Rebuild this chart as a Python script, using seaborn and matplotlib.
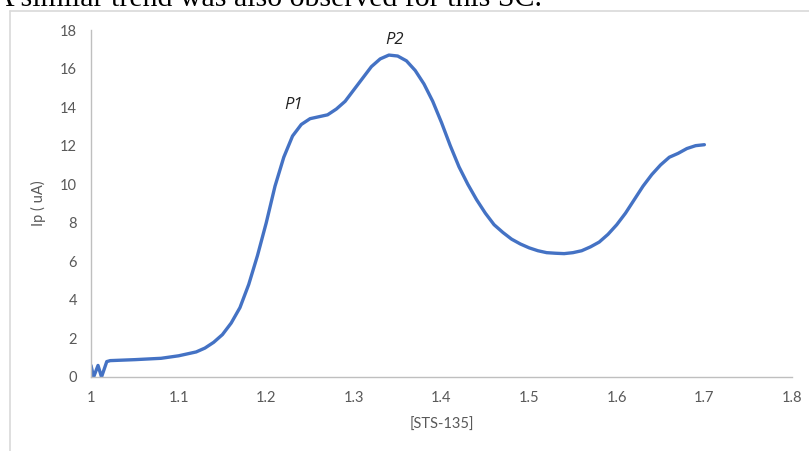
import matplotlib
matplotlib.use("Agg")
import matplotlib.pyplot as plt
import seaborn as sns
import pandas as pd
from matplotlib.lines import Line2D

sns.set_style("white")
plt.rcParams['font.family'] = ['Lato', 'DejaVu Sans']

conc = [1.000, 1.003, 1.008, 1.012, 1.018, 1.022, 1.05, 1.08, 1.10, 1.12, 1.13, 1.14, 1.15, 1.16, 1.17, 1.18, 1.19,
        1.20, 1.21, 1.22, 1.23, 1.24, 1.25, 1.26, 1.27, 1.28, 1.29, 1.30, 1.31, 1.32, 1.33,
        1.34, 1.35, 1.36, 1.37, 1.38, 1.39, 1.40, 1.41, 1.42, 1.43, 1.44, 1.45, 1.46, 1.47,
        1.48, 1.49, 1.50, 1.51, 1.52, 1.53, 1.54, 1.55, 1.56, 1.57, 1.58, 1.59, 1.60, 1.61,
        1.62, 1.63, 1.64, 1.65, 1.66, 1.67, 1.68, 1.69, 1.70]
ip = [0.6, 0.0, 0.6, 0.0, 0.8, 0.85, 0.9, 0.97, 1.1, 1.3, 1.5, 1.8, 2.2, 2.8, 3.6, 4.8, 6.3,
      8.0, 9.9, 11.4, 12.5, 13.1, 13.4, 13.5, 13.6, 13.9, 14.3, 14.9, 15.5, 16.1, 16.5,
      16.7, 16.65, 16.4, 15.9, 15.2, 14.3, 13.2, 12.0, 10.9, 10.0, 9.2, 8.5, 7.9, 7.5,
      7.15, 6.9, 6.7, 6.55, 6.45, 6.42, 6.4, 6.45, 6.55, 6.75, 7.0, 7.4, 7.9, 8.5,
      9.2, 9.9, 10.5, 11.0, 11.4, 11.6, 11.85, 12.0, 12.05]

peak_labels = ["P1", "P2"]
peak_x = [1.231, 1.346]
peak_y = [14.1, 17.5]

x_ticks = [1, 1.1, 1.2, 1.3, 1.4, 1.5, 1.6, 1.7, 1.8]
x_tick_labels = ["1", "1.1", "1.2", "1.3", "1.4", "1.5", "1.6", "1.7", "1.8"]
y_ticks = [0, 2, 4, 6, 8, 10, 12, 14, 16, 18]

df = pd.DataFrame({"conc": conc, "ip": ip})

W, H = 809, 451
fig = plt.figure(figsize=(W / 100, H / 100), dpi=100)
ax = fig.add_axes([91 / W, (H - 377) / H, (792 - 91) / W, (377 - 30) / H])

sns.lineplot(data=df, x="conc", y="ip", ax=ax, color="#4472C4", linewidth=2.4, sort=False)
for ln in ax.lines:
    ln.set_solid_joinstyle("round")
    ln.set_solid_capstyle("round")

ax.set_xlim(1, 1.8)
ax.set_ylim(0, 18)
ax.set_xticks(x_ticks)
ax.set_xticklabels(x_tick_labels)
ax.set_yticks(y_ticks)
ax.tick_params(length=0, labelsize=10.5, labelcolor="#595959", pad=10)
for s in ["top", "right"]:
    ax.spines[s].set_visible(False)
for s in ["left", "bottom"]:
    ax.spines[s].set_color("#bfbfbf")
    ax.spines[s].set_linewidth(1.0)

ax.set_xlabel("[STS-135]", fontsize=10.5, color="#595959", labelpad=9)
ax.set_ylabel("Ip ( uA)", fontsize=10.5, color="#595959", labelpad=10)

for lab, px, py in zip(peak_labels, peak_x, peak_y):
    ax.text(px, py, lab, fontsize=12, style="italic", color="#222222", ha="center", va="center",
            family=["Open Sans", "DejaVu Sans"])

# outer frame of the embedded chart
fig.add_artist(Line2D([10 / W, 10 / W], [0, 1 - 11 / H], color="#d9d9d9", linewidth=1.2, transform=fig.transFigure))
fig.add_artist(Line2D([10 / W, 1], [1 - 11 / H, 1 - 11 / H], color="#d9d9d9", linewidth=1.2, transform=fig.transFigure))

# cut-off line of surrounding document text
fig.text(-7 / W, 1 - 6 / H, "A similar trend was also observed for this SC.", fontsize=21.5,
         family=["Liberation Serif", "DejaVu Serif"], color="black", ha="left", va="baseline")

fig.savefig("out.png", dpi=100)
